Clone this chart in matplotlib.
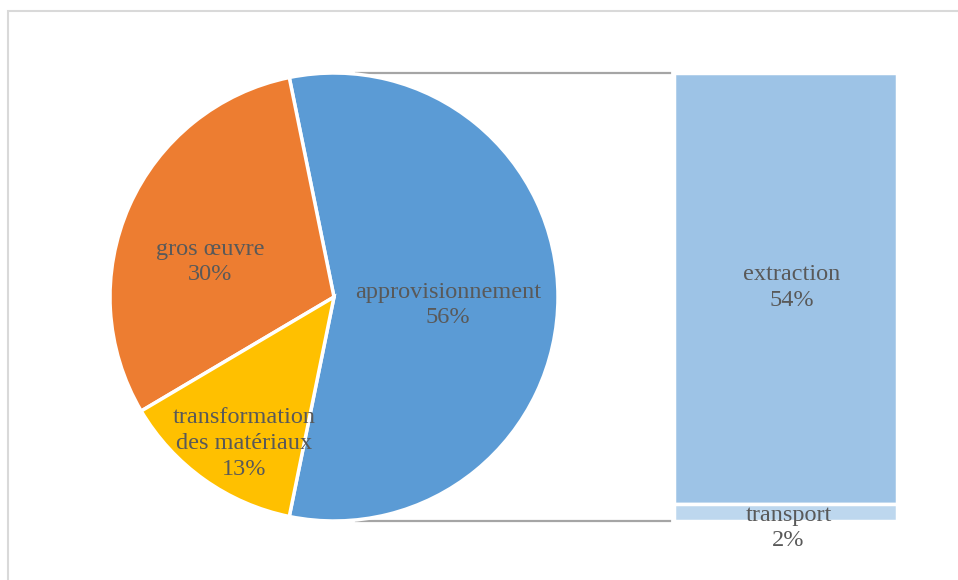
import numpy as np
import matplotlib.pyplot as plt
from matplotlib.patches import Rectangle

# data
pie_labels = ['approvisionnement', 'gros œuvre', 'transformation\ndes matériaux']
pie_values = [56.4, 30.3, 13.3]
pie_pct = ['56%', '30%', '13%']
pie_colors = ['#5B9BD5', '#ED7D31', '#FFC000']

bar_labels = ['extraction', 'transport']
bar_values = [54.3, 2.1]
bar_pct = ['54%', '2%']
bar_colors = ['#9DC3E6', '#BDD7EE']

plt.rcParams['font.family'] = ['Liberation Serif', 'DejaVu Serif']
txt_color = '#595959'
fs = 17.5
ls = 1.3

fig = plt.figure(figsize=(9.58, 5.80), dpi=100)
ax = fig.add_axes([0, 0, 1, 1])

cx, cy, r = 334, 283, 224
start = -pie_values[0] / sum(pie_values) * 360 / 2
wedges, _ = ax.pie(pie_values, colors=pie_colors, startangle=start, counterclock=True,
                   center=(cx, cy), radius=r, frame=True,
                   wedgeprops=dict(edgecolor='white', linewidth=2.5))
ax.set_xlim(0, 958)
ax.set_ylim(0, 580)
ax.axis('off')
for w in wedges:
    w.set_zorder(3)

# outer frame
ax.add_patch(Rectangle((8.5, -10), 960, 579.5, fill=False, edgecolor='#D9D9D9', lw=1.5))

# pie labels
dists = [0.51, 0.58, 0.76]
shifts = [0, 6, 3.5]
yoff = [-8, -5, -2]
for w, lab, pct, d, s, dy in zip(wedges, pie_labels, pie_pct, dists, shifts, yoff):
    ang = np.deg2rad((w.theta1 + w.theta2) / 2 + s)
    x = cx + d * r * np.cos(ang)
    y = cy + d * r * np.sin(ang) + dy
    ax.text(x, y, lab + '\n' + pct, ha='center', va='center', fontsize=fs,
            color=txt_color, zorder=5, linespacing=ls)

# bar of pie
bx, bw = 785.5, 223
total_h = 2 * r
scale = total_h / sum(bar_values)
bottom = cy - r
bottoms = [bottom + bar_values[1] * scale, bottom]
heights = [bar_values[0] * scale, bar_values[1] * scale]
ax.bar([bx, bx], heights, width=bw, bottom=bottoms, color=bar_colors,
       edgecolor='white', linewidth=2.5, zorder=3)

# connector lines
ax.plot([cx + 22, bx - bw / 2 - 4], [cy + r, cy + r], color='#A5A5A5', lw=1.6, zorder=2)
ax.plot([cx + 22, bx - bw / 2 - 4], [cy - r, cy - r], color='#A5A5A5', lw=1.6, zorder=2)

# bar labels
ax.text(bx + 6, bottoms[0] + heights[0] / 2 + 1, bar_labels[0] + '\n' + bar_pct[0],
        ha='center', va='center', fontsize=fs, color=txt_color, zorder=5, linespacing=ls)
ax.text(bx + 3, bottom - 7, bar_labels[1] + '\n' + bar_pct[1],
        ha='center', va='center', fontsize=fs, color=txt_color, zorder=5, linespacing=ls)

fig.savefig('out.png', dpi=100)
